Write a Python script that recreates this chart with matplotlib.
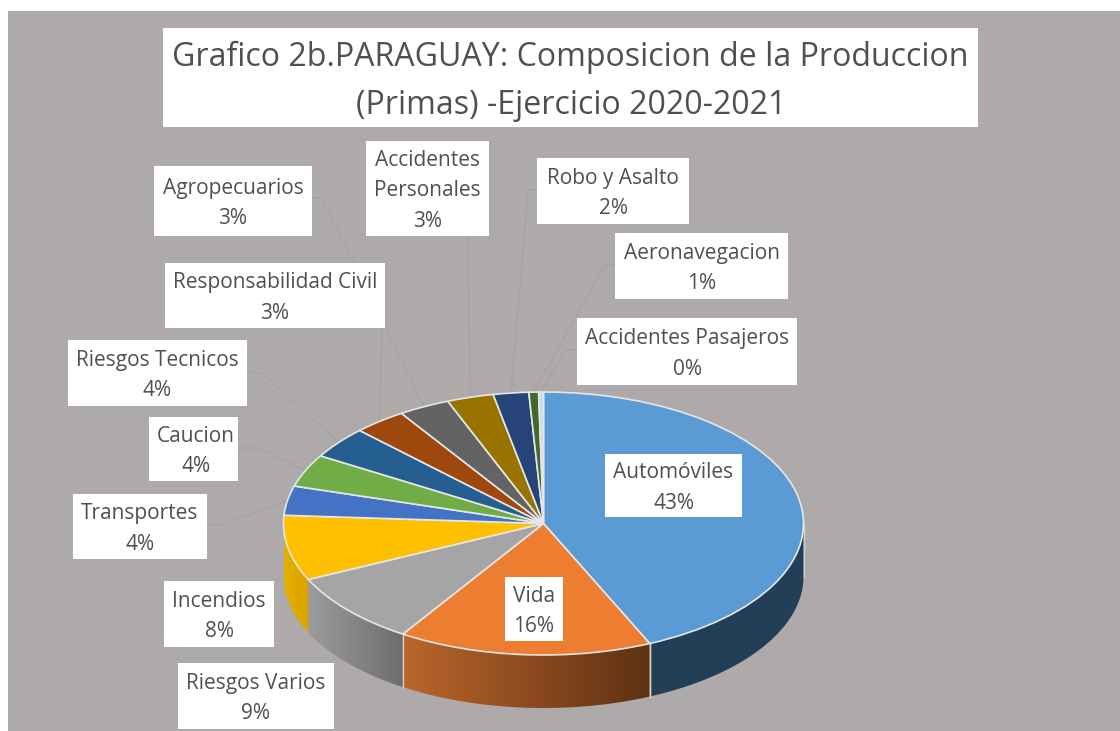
# -*- coding: utf-8 -*-
import numpy as np
import matplotlib
matplotlib.use('Agg')
import matplotlib.pyplot as plt
from matplotlib.patches import Rectangle, Polygon
from matplotlib.colors import to_rgb

# data
categories = ['Automóviles', 'Vida', 'Riesgos Varios', 'Incendios', 'Transportes', 'Caucion',
              'Riesgos Tecnicos', 'Responsabilidad Civil', 'Agropecuarios', 'Accidentes\nPersonales',
              'Robo y Asalto', 'Aeronavegacion', 'Accidentes Pasajeros']
shares = [43.3, 15.8, 8.9, 8.0, 3.6, 4.0, 3.9, 3.3, 3.2, 2.9, 2.2, 0.6, 0.3]
pct_labels = ['43%', '16%', '9%', '8%', '4%', '4%', '4%', '3%', '3%', '3%', '2%', '1%', '0%']
colors = ['#5B9BD5', '#ED7D31', '#A5A5A5', '#FFC000', '#4472C4', '#70AD47', '#255E91',
          '#9E480E', '#636363', '#997300', '#264478', '#43682B', '#C5DCEF']
title_lines = ['Grafico 2b.PARAGUAY: Composicion de la Produccion', '(Primas) -Ejercicio 2020-2021']

# layout in pixels of the 1120x731 picture
W, H = 1120, 731
cx, cy, rx, ry = 543.5, 523.5, 260.0, 131.5
depth = 53.0 / ry
BG = '#AEAAAA'
TXT = '#505050'
boxes = [(605, 454, 742, 517), (505, 577, 563, 641), (178, 663, 334, 729), (164, 581, 274, 647),
         (73, 494, 207, 559), (149, 417, 238, 481), (68, 340, 247, 406), (165, 263, 385, 328),
         (154, 166, 312, 236), (366, 141, 489, 236), (537, 158, 689, 224), (615, 233, 788, 299),
         (577, 318, 797, 385)]
# label end of each leader line, the rim end comes from the slice angle
leaders = {4: [(207, 525), (222, 525)], 5: [(238, 448), (258, 448)], 6: [(247, 372), (262, 373)],
           7: [(382, 328)], 8: [(312, 198), (322, 198)], 9: [(468, 236)],
           10: [(537, 190), (528, 190)], 11: [(615, 265), (605, 265)], 12: [(577, 350), (565, 350)]}
wall_grad = {0: ('#233E57', '#233E57'), 1: ('#BA662B', '#5F3112'), 2: ('#9C9C9C', '#6E6E6E'),
             3: ('#E6AE00', '#D9A400')}


def px(x, y):
    return (x - cx) / rx, (cy - y) / ry


plt.rcParams['font.family'] = ['Open Sans', 'DejaVu Sans']
fig = plt.figure(figsize=(W / 100, H / 100), dpi=100, facecolor='white')
ax = fig.add_axes([8 / W, 0, 1 - 8 / W, 1 - 11 / H])

wedges, _ = ax.pie(shares, colors=colors, startangle=90, counterclock=False, radius=1,
                   wedgeprops=dict(edgecolor='#E6E6E6', linewidth=1.2))
for w in wedges:
    w.set_zorder(5)
ax.set_aspect('auto')
ax.set_frame_on(True)
ax.set_facecolor(BG)
for s in ax.spines.values():
    s.set_visible(False)
xlim = ((8 - cx) / rx, (W - cx) / rx)
ylim = ((cy - H) / ry, (cy - 11) / ry)

# clockwise angle from the top, as the pie draws it
edges = np.concatenate([[0], np.cumsum(shares)]) / np.sum(shares) * 2 * np.pi

# side wall of the front slices
for i, (c0, c1) in wall_grad.items():
    a0 = max(edges[i], 0.5 * np.pi)
    a1 = min(edges[i + 1], 1.5 * np.pi)
    t = np.linspace(a0, a1, 80)
    xs, ys = np.sin(t), np.cos(t)
    pts = np.column_stack([np.r_[xs, xs[::-1]], np.r_[ys, ys[::-1] - depth]])
    poly = Polygon(pts, closed=True, facecolor='none', edgecolor='none')
    ax.add_patch(poly)
    f = np.linspace(0, 1, 128)[None, :, None]
    grad = np.array(to_rgb(c0)) * (1 - f) + np.array(to_rgb(c1)) * f
    im = ax.imshow(grad, extent=(xs.min(), xs.max(), ys.min() - depth, ys.max()), aspect='auto',
                   zorder=2, interpolation='bilinear')
    im.set_clip_path(poly)
    # light seam at the slice edges
    if i in (0, 1):
        ax.plot([xs[-1], xs[-1]], [ys[-1], ys[-1] - depth], color='#D9CFC8', lw=1.0, zorder=3)
        ax.plot([xs[0], xs[0]], [ys[0], ys[0] - depth], color='#D9CFC8', lw=1.0, zorder=3)

# leader lines from the labels to the rim
for i, path in leaders.items():
    mid = (edges[i] + edges[i + 1]) / 2
    pts = [px(*p) for p in path] + [(np.sin(mid), np.cos(mid))]
    ax.plot([p[0] for p in pts], [p[1] for p in pts], color='#A5A2A2', lw=0.9, zorder=1)

ax.set_xlim(xlim)
ax.set_ylim(ylim)


def put_box(x0, y0, x1, y1):
    a, b = px(x0, y1)
    c, d = px(x1, y0)
    ax.add_patch(Rectangle((a, b), c - a, d - b, facecolor='white', edgecolor='none', zorder=6))


# data labels, Caucion sits a little right of its box centre
for i, box in enumerate(boxes):
    put_box(*box)
    dx = 2.5 if i == 5 else 0
    tx, ty = px((box[0] + box[2]) / 2 + dx, (box[1] + box[3]) / 2 + 2.5)
    ax.text(tx, ty, categories[i] + '\n' + pct_labels[i], ha='center', va='center', fontsize=15,
            color=TXT, linespacing=1.62, zorder=7)

# title
put_box(163, 28, 978, 127)
tx, ty = px(570, 57)
ax.text(tx, ty, title_lines[0], ha='center', va='center', fontsize=23.1, color=TXT, zorder=7)
tx, ty = px(571, 105)
ax.text(tx, ty, title_lines[1], ha='center', va='center', fontsize=23.1, color=TXT, zorder=7)

fig.savefig('out.png', dpi=100, facecolor='white')
